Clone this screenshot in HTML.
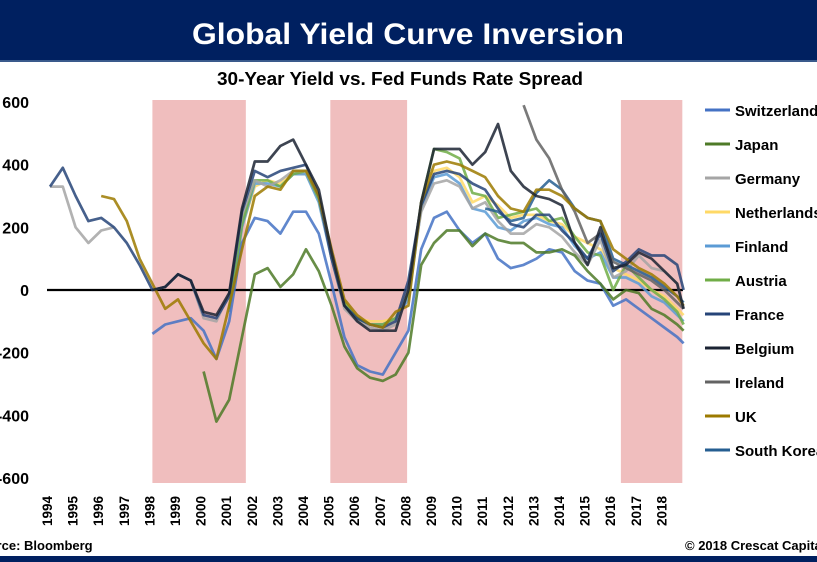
<!DOCTYPE html>
<html><head><meta charset="utf-8"><style>
html,body{margin:0;padding:0;background:#fff;width:817px;height:562px;overflow:hidden}
svg{display:block;font-family:"Liberation Sans",Arial,sans-serif}
</style></head><body>
<svg id="chart" width="817" height="562" viewBox="0 0 817 562">
<rect x="0" y="0" width="817" height="60" fill="#002060"/>
<rect x="0" y="60" width="817" height="2" fill="#3a5a8c"/>
<text x="408" y="44" text-anchor="middle" fill="#fff" font-size="30" font-weight="bold" textLength="432" lengthAdjust="spacingAndGlyphs">Global Yield Curve Inversion</text>
<text x="400" y="85" text-anchor="middle" fill="#000" font-size="18" font-weight="bold" textLength="366" lengthAdjust="spacingAndGlyphs">30-Year Yield vs. Fed Funds Rate Spread</text>
<g id="shades"></g>
<g id="yaxis"></g>
<g id="xaxis"></g>
<line x1="47" y1="290" x2="683" y2="290" stroke="#000" stroke-width="2.2"/>
<g id="series"></g>
<g id="legend"></g>
<text x="-28" y="550" font-size="13" font-weight="bold" fill="#000">Source: Bloomberg</text>
<text x="685" y="550" font-size="13" font-weight="bold" fill="#000">© 2018 Crescat Capital</text>
<rect x="0" y="556" width="817" height="6" fill="#002060"/>
</svg>
<script>
const years=[1994,1994.5,1995,1995.5,1996,1996.5,1997,1997.5,1998,1998.5,1999,1999.5,2000,2000.5,2001,2001.5,2002,2002.5,2003,2003.5,2004,2004.5,2005,2005.5,2006,2006.5,2007,2007.5,2008,2008.5,2009,2009.5,2010,2010.5,2011,2011.5,2012,2012.5,2013,2013.5,2014,2014.5,2015,2015.5,2016,2016.5,2017,2017.5,2018,2018.5,2018.75];
const N=null;
const switzerland=[N,N,N,N,N,N,N,N,-140,-110,-100,-90,-130,-220,-100,150,230,220,180,250,250,180,20,-150,-240,-260,-270,-200,-130,130,230,250,190,150,180,100,70,80,100,130,120,60,30,20,-50,-30,-60,-90,-120,-150,-170];
const japan=[N,N,N,N,N,N,N,N,N,N,N,N,-260,-420,-350,-150,50,70,10,50,130,60,-50,-180,-250,-280,-290,-270,-200,80,150,190,190,140,180,160,150,150,120,120,130,110,60,20,-30,0,-10,-60,-80,-110,-130];
const germany=[330,330,200,150,190,200,N,N,0,10,50,30,-90,-100,-10,240,350,330,350,380,380,300,100,-60,-100,-120,-130,-110,10,250,340,350,330,260,280,220,180,180,210,200,170,120,80,160,40,60,110,70,60,20,-60];
const netherlands=[N,N,N,N,N,N,N,N,N,N,N,N,N,N,-60,200,330,350,340,370,370,290,110,-40,-90,-100,-100,-90,-20,270,380,390,360,280,300,270,230,240,240,220,210,170,150,130,70,50,30,0,-20,-60,-80];
const finland=[N,N,N,N,N,N,N,N,N,N,N,N,N,N,-70,200,340,340,330,370,370,280,100,-50,-90,-110,-110,-90,-30,260,360,370,340,260,250,200,190,220,230,210,200,140,100,120,40,40,20,-20,-40,-80,-100];
const austria=[N,N,N,N,N,N,N,N,N,N,N,N,N,N,-60,210,350,350,330,370,380,290,110,-40,-90,-110,-110,-90,-10,280,450,440,420,310,300,230,240,250,260,220,230,170,120,110,0,80,40,0,-30,-70,-110];
const france=[330,390,300,220,230,200,150,80,0,10,50,30,-80,-90,-20,250,380,360,380,390,400,300,100,-50,-90,-110,-120,-100,30,270,370,380,370,340,320,260,210,200,240,240,190,150,100,180,60,90,130,110,110,80,0];
const belgium=[N,N,N,N,N,N,N,N,0,10,50,30,-70,-80,-10,260,410,410,460,480,400,320,120,-50,-100,-130,-130,-130,0,280,450,450,450,400,440,530,380,330,300,290,270,150,80,200,70,80,120,100,60,20,-60];
const ireland=[N,N,N,N,N,N,N,N,N,N,N,N,N,N,N,N,N,N,N,N,N,N,N,N,N,N,N,N,N,N,N,N,N,N,N,N,N,590,480,420,320,250,150,180,90,70,50,30,0,-40,-60];
const uk=[N,N,N,N,300,290,220,100,20,-60,-30,-100,-170,-220,-50,130,300,330,320,380,380,300,130,-30,-80,-110,-120,-70,-50,280,400,410,400,380,360,300,260,250,320,320,300,260,230,220,130,100,70,50,20,-20,-50];
const southKorea=[N,N,N,N,N,N,N,N,N,N,N,N,N,N,N,N,N,N,N,N,N,N,N,N,N,N,N,N,N,N,N,N,N,N,260,250,220,230,310,350,320,260,230,220,100,80,60,40,10,-20,-40];
const seriesNames=["Switzerland","Japan","Germany","Netherlands","Finland","Austria","France","Belgium","Ireland","UK","South Korea"];
const seriesData=[switzerland,japan,germany,netherlands,finland,austria,france,belgium,ireland,uk,southKorea];
const seriesColors=["#4472C4","#4E7A27","#A5A5A5","#FFD966","#5B9BD5","#70AD47","#264478","#1B2333","#636363","#9C7A00","#255E91"];
const drawOrder=[3,4,5,2,0,1,10,8,6,9,7];
const yTicks=[600,400,200,0,-200,-400,-600];
const xYears=[1994,1995,1996,1997,1998,1999,2000,2001,2002,2003,2004,2005,2006,2007,2008,2009,2010,2011,2012,2013,2014,2015,2016,2017,2018];
const recessionStarts=[1998.0,2004.95,2016.3];
const recessionEnds=[2001.65,2007.95,2018.7];

const NS="http://www.w3.org/2000/svg";
function xs(t){return 50+(t-1994)*25.6;}
function ys(v){return 290-v*0.3133;}
function mk(tag,attrs,parent){const e=document.createElementNS(NS,tag);for(const k in attrs)e.setAttribute(k,attrs[k]);parent.appendChild(e);return e;}

const shades=document.getElementById('shades');
for(let i=0;i<recessionStarts.length;i++){
  const r=mk('rect',{x:xs(recessionStarts[i]),y:100,width:xs(recessionEnds[i])-xs(recessionStarts[i]),height:383,fill:'#F0BEBE'},shades);
  
  
}
const ya=document.getElementById('yaxis');
yTicks.forEach(v=>{
  const t=mk('text',{x:29,y:ys(v)+6,'text-anchor':'end','font-size':16,'font-weight':'bold',fill:'#000'},ya);
  t.textContent=String(v);
  
  
});
const xa=document.getElementById('xaxis');
xYears.forEach(yr=>{
  const x=xs(yr)+2;
  const t=mk('text',{x:0,y:0,transform:'translate('+x+',526) rotate(-90)','font-size':13.5,'font-weight':'bold',fill:'#000'},xa);
  t.textContent=String(yr);
  
  
});
const sg=document.getElementById('series');
drawOrder.forEach(si=>{
  const d=seriesData[si];let p='';let pen=false;
  for(let i=0;i<years.length;i++){
    if(d[i]===null||d[i]===undefined){pen=false;continue;}
    p+=(pen?'L':'M')+xs(years[i]).toFixed(1)+','+ys(d[i]).toFixed(1);pen=true;
  }
  const path=mk('path',{d:p,fill:'none',stroke:seriesColors[si],'stroke-width':2.7,'stroke-linejoin':'round','stroke-opacity':0.85},sg);
  
  
});
const lg=document.getElementById('legend');
seriesNames.forEach((n,i)=>{
  const y=110+i*34;
  const g=mk('g',{},lg);
  
  
  mk('line',{x1:705,y1:y,x2:730,y2:y,stroke:seriesColors[i],'stroke-width':3},g);
  const t=mk('text',{x:735,y:y+6,'font-size':15,'font-weight':'bold',fill:'#000'},g);
  t.textContent=n;
});
</script>
</body></html>
